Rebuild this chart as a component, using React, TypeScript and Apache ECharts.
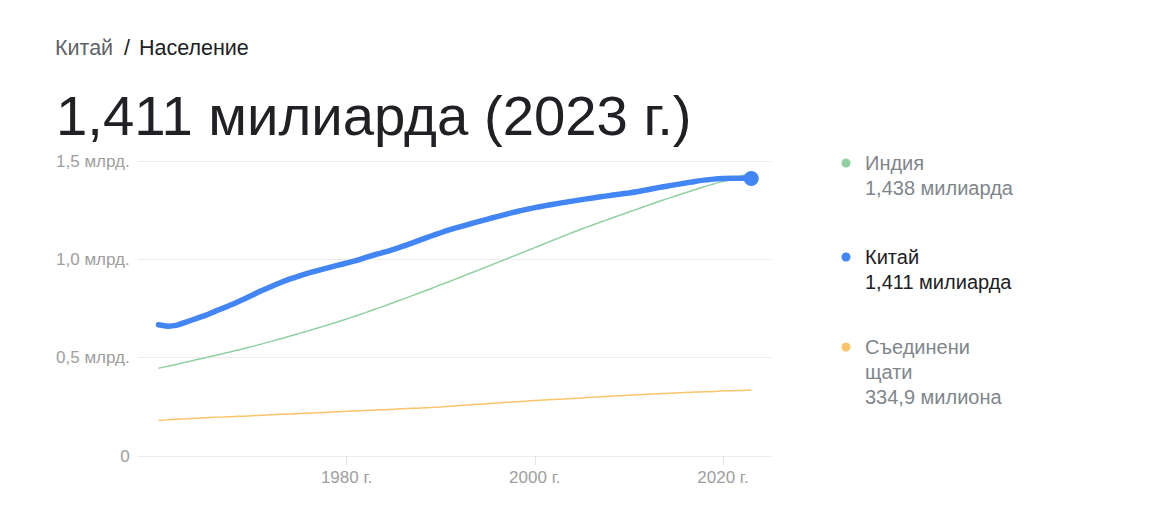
import React, { useEffect, useRef } from "react";
import * as echarts from "echarts";

const years: number[] = [];
for (let y = 1960; y <= 2023; y++) years.push(y);

// population, billions
const china = [
  0.6671, 0.6603, 0.6658, 0.6823, 0.6984, 0.7152, 0.7354, 0.7546, 0.7745, 0.796,
  0.8183, 0.8411, 0.862, 0.8819, 0.9004, 0.9164, 0.9307, 0.9435, 0.9562, 0.969,
  0.9812, 0.9939, 1.0086, 1.0233, 1.0368, 1.051, 1.0668, 1.084, 1.1016, 1.1187,
  1.1352, 1.1508, 1.165, 1.1784, 1.1918, 1.2049, 1.2176, 1.2301, 1.2419, 1.2527,
  1.2627, 1.2719, 1.2804, 1.2884, 1.2961, 1.3037, 1.311, 1.3179, 1.3247, 1.3313,
  1.3377, 1.345, 1.3542, 1.3632, 1.3719, 1.3799, 1.3878, 1.3962, 1.4028, 1.4078,
  1.4111, 1.4124, 1.4122, 1.4107,
];
const india = [
  0.446, 0.4564, 0.467, 0.4779, 0.4891, 0.5001, 0.511, 0.522, 0.5334, 0.5453,
  0.5575, 0.57, 0.5828, 0.5961, 0.6097, 0.6235, 0.6375, 0.6517, 0.6663, 0.6813,
  0.6968, 0.7129, 0.7292, 0.7458, 0.7629, 0.7802, 0.7979, 0.8157, 0.8337, 0.852,
  0.8705, 0.8889, 0.9076, 0.9264, 0.9453, 0.9643, 0.9833, 1.0023, 1.0214, 1.0405,
  1.0596, 1.079, 1.0983, 1.1174, 1.1363, 1.1546, 1.1724, 1.1897, 1.2067, 1.2236,
  1.2406, 1.2576, 1.2745, 1.2911, 1.3073, 1.3229, 1.3386, 1.3542, 1.369, 1.3831,
  1.3964, 1.4076, 1.4254, 1.4381,
];
const usa = [
  0.1807, 0.1837, 0.1865, 0.1892, 0.1919, 0.1943, 0.1966, 0.1987, 0.2007, 0.2027,
  0.2051, 0.2077, 0.2099, 0.2119, 0.2139, 0.216, 0.218, 0.2202, 0.2226, 0.2251,
  0.2272, 0.2295, 0.2317, 0.2338, 0.2358, 0.2379, 0.2401, 0.2423, 0.2445, 0.2468,
  0.2496, 0.253, 0.2565, 0.2599, 0.2631, 0.2663, 0.2694, 0.2727, 0.2759, 0.279,
  0.2822, 0.285, 0.2876, 0.2901, 0.2928, 0.2955, 0.2984, 0.3012, 0.3041, 0.3068,
  0.3093, 0.3116, 0.3139, 0.3161, 0.3184, 0.3207, 0.3231, 0.3251, 0.3268, 0.3283,
  0.3315, 0.332, 0.3333, 0.3349,
];

const xTickYears = [1980, 2000, 2020];
const yTicks = [0, 0.5, 1.0, 1.5];

const breadcrumbCountry = "Китай";
const breadcrumbTopic = "Население";
const headline = "1,411 милиарда (2023 г.)";

const legendItems = [
  { name: ["Индия"], value: "1,438 милиарда", color: "#8fd1a0", active: false },
  { name: ["Китай"], value: "1,411 милиарда", color: "#4285f4", active: true },
  { name: ["Съединени", "щати"], value: "334,9 милиона", color: "#fbc46a", active: false },
];

const FONT = "Arial, 'Liberation Sans', sans-serif";

export default function App() {
  const ref = useRef<HTMLDivElement>(null);
  useEffect(() => {
    if (!ref.current) return;
    const chart = echarts.init(ref.current, undefined, { renderer: "svg" });
    const pairs = (vals: number[]) => years.map((y, i) => [y, vals[i]]);

    const graphics: any[] = [
      {
        type: "text",
        x: 55,
        y: 48,
        style: {
          text: breadcrumbCountry,
          fill: "#5f6368",
          font: `21.5px ${FONT}`,
          verticalAlign: "middle",
        },
      },
      {
        type: "text",
        x: 124,
        y: 48,
        style: { text: "/", fill: "#202124", font: `21.5px ${FONT}`, verticalAlign: "middle" },
      },
      {
        type: "text",
        x: 139,
        y: 48,
        style: { text: breadcrumbTopic, fill: "#202124", font: `21.5px ${FONT}`, verticalAlign: "middle" },
      },
      {
        type: "text",
        x: 56,
        y: 115,
        style: { text: headline, fill: "#202124", font: `56.3px ${FONT}`, verticalAlign: "middle" },
      },
    ];

    const legendTops = [163, 257, 347];
    legendItems.forEach((it, idx) => {
      const cy = legendTops[idx];
      graphics.push({
        type: "circle",
        shape: { cx: 846, cy, r: 4.5 },
        style: { fill: it.color },
      });
      const lines = [...it.name, it.value];
      lines.forEach((ln, j) => {
        graphics.push({
          type: "text",
          x: 865,
          y: cy + j * 25,
          style: {
            text: ln,
            fill: it.active ? "#202124" : "#80868b",
            font: `20px ${FONT}`,
            verticalAlign: "middle",
            align: "left",
          },
        });
      });
    });

    chart.setOption({
      animation: false,
      backgroundColor: "#ffffff",
      grid: { left: 137.7, right: 386, top: 161, bottom: 71, containLabel: false },
      xAxis: {
        type: "value",
        min: 1957.8,
        max: 2025.1,
        axisLine: { show: false },
        splitLine: { show: false },
        axisTick: {
          show: true,
          customValues: xTickYears,
          length: 9,
          lineStyle: { color: "#e3e3e3", width: 1 },
        },
        axisLabel: {
          customValues: xTickYears,
          formatter: (v: number) => `${v} г.`,
          color: "#9e9e9e",
          fontSize: 17,
          fontFamily: FONT,
          margin: 13,
        },
      },
      yAxis: {
        type: "value",
        min: 0,
        max: 1.5,
        interval: 0.5,
        axisLine: { show: false },
        axisTick: { show: false },
        splitLine: { lineStyle: { color: "#ececec", width: 1 } },
        axisLabel: {
          customValues: yTicks,
          formatter: (v: number) =>
            v === 0 ? "0" : `${v.toFixed(1).replace(".", ",")} млрд.`,
          color: "#9e9e9e",
          fontSize: 17,
          fontFamily: FONT,
          margin: 8,
          verticalAlign: "middle",
          padding: [4, 0, 0, 0],
        },
      },
      graphic: graphics,
      series: [
        {
          type: "line",
          name: "США",
          data: pairs(usa),
          showSymbol: false,
          smooth: 0.3,
          lineStyle: { color: "#fbc46a", width: 1.5 },
          z: 2,
        },
        {
          type: "line",
          name: "Индия",
          data: pairs(india),
          showSymbol: false,
          smooth: 0.3,
          lineStyle: { color: "#8fd1a0", width: 1.5 },
          z: 3,
        },
        {
          type: "line",
          name: "Китай",
          data: pairs(china),
          showSymbol: false,
          smooth: 0.3,
          lineStyle: { color: "#4285f4", width: 5.5, cap: "round" },
          z: 4,
        },
        {
          type: "scatter",
          data: [[years[years.length - 1], china[china.length - 1]]],
          symbolSize: 15,
          itemStyle: { color: "#4285f4", opacity: 1 },
          z: 5,
        },
      ],
    });
    return () => chart.dispose();
  }, []);
  return (
    <div
      ref={ref}
      style={{ position: "fixed", left: 0, top: 0, width: 1157, height: 527 }}
    />
  );
}
